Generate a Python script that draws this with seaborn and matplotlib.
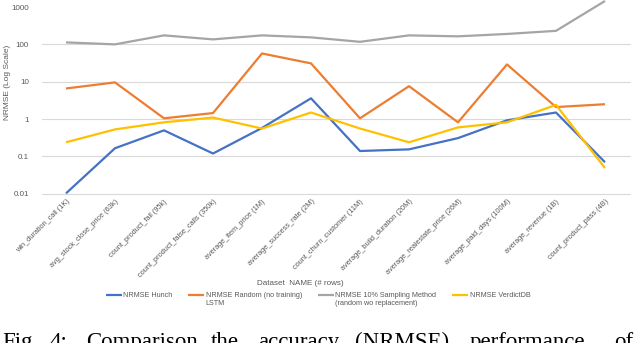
import matplotlib
matplotlib.use("Agg")
import matplotlib.pyplot as plt
import seaborn as sns
import pandas as pd

# ---------------- data ----------------
datasets = [
    "win_duration_call (1K)",
    "avg_stock_close_price (63k)",
    "count_product_fail (95k)",
    "count_product_false_calls (350k)",
    "average_item_price (1M)",
    "average_success_rate (2M)",
    "count_churn_customer (11M)",
    "average_build_duration (20M)",
    "average_realestate_price (26M)",
    "average_paid_days (100M)",
    "average_revenue (1B)",
    "count_product_pass (4B)",
]
hunch = [0.0103, 0.166, 0.50, 0.12, 0.58, 3.6, 0.14, 0.155, 0.31, 0.93, 1.5, 0.07]
random_lstm = [6.6, 9.6, 1.05, 1.45, 57, 31, 1.05, 7.6, 0.82, 29, 2.1, 2.5]
sampling = [113, 100, 174, 136, 174, 154, 117, 174, 164, 190, 230, 1450]
verdictdb = [0.24, 0.53, 0.82, 1.1, 0.56, 1.5, 0.56, 0.24, 0.6, 0.82, 2.4, 0.049]

series_names = [
    "NRMSE Hunch",
    "NRMSE Random (no training)\nLSTM",
    "NRMSE 10% Sampling Method\n(random wo replacement)",
    "NRMSE VerdictDB",
]
colors = ["#4472C4", "#ED7D31", "#A5A5A5", "#FFC000"]
yticks = [0.01, 0.1, 1, 10, 100, 1000]
ytick_labels = ["0.01", "0.1", "1", "10", "100", "1000"]
x_title = "Dataset  NAME (# rows)"
y_title = "NRMSE (Log Scale)"
caption_words = ["Fig.", "4:", "Comparison", "the", "accuracy", "(NRMSE)", "performance", "of"]
caption_x = [2, 50, 86, 211, 258, 355, 470, 614]

rows = []
for name, vals in zip(series_names, [hunch, random_lstm, sampling, verdictdb]):
    for i, v in enumerate(vals):
        rows.append({"pos": i, "dataset": datasets[i], "series": name, "nrmse": v})
df = pd.DataFrame(rows)

# ---------------- style ----------------
sns.set_style("white")
plt.rcParams["font.family"] = ["Liberation Sans", "DejaVu Sans"]
txt_color = "#595959"

W, H = 640, 343
fig = plt.figure(figsize=(W / 100, H / 100), dpi=100)
left, right, top, bottom = 41.5, 629.5, 7, 194
ax = fig.add_axes([left / W, 1 - bottom / H, (right - left) / W, (bottom - top) / H])

sns.lineplot(
    data=df, x="pos", y="nrmse", hue="series", hue_order=series_names,
    palette=colors, linewidth=1.6, sort=False, ax=ax, legend=True,
)
for ln in ax.lines:
    ln.set_clip_on(False)
    ln.set_solid_capstyle("butt")

ax.set_yscale("log")
ax.set_ylim(0.0099, 1000)
ax.set_xlim(-0.5, len(datasets) - 0.5)
ax.set_yticks(yticks)
ax.set_yticklabels(ytick_labels)
ax.minorticks_off()
ax.set_xticks(range(len(datasets)))
ax.set_xticklabels(datasets, rotation=45, ha="right", rotation_mode="anchor",
                   fontsize=5.3, color=txt_color)
ax.tick_params(axis="y", length=0, pad=9, labelsize=5.8, labelcolor=txt_color)
ax.tick_params(axis="x", length=0, pad=3)

ax.yaxis.grid(True, color="#D9D9D9", linewidth=0.8)
ax.xaxis.grid(False)
ax.set_axisbelow(True)
gl = ax.yaxis.get_gridlines()
for g in gl:
    g.set_clip_on(False)
gl[-1].set_visible(False)
for s in ax.spines.values():
    s.set_visible(False)

ax.set_ylabel(y_title, fontsize=6.0, color=txt_color)
ax.yaxis.set_label_coords((11 - left) / (right - left), (bottom - 82) / (bottom - top))
ax.set_xlabel(x_title, fontsize=5.8, color=txt_color)
ax.xaxis.set_label_coords((300 - left) / (right - left), (bottom - 280) / (bottom - top))

# legend: pad single-line labels to two lines so all first lines align
handles, labels = ax.get_legend_handles_labels()
labels = [l if "\n" in l else l + "\n " for l in labels]
fs_leg = 5.2
leg = ax.legend(
    handles, labels,
    loc="upper left", bbox_to_anchor=(106 / W, 1 - 292 / H), bbox_transform=fig.transFigure,
    ncol=4, frameon=False, fontsize=fs_leg, handlelength=2.2, handletextpad=0.2,
    columnspacing=2.2, borderpad=0, borderaxespad=0,
)
for t in leg.get_texts():
    t.set_color(txt_color)
for h in leg.get_lines():
    h.set_linewidth(1.6)
    yd = h.get_ydata()
    h.set_ydata([y + 0.6 * fs_leg for y in yd])

for w, xp in zip(caption_words, caption_x):
    fig.text(xp / W, 1 - 348 / H, w, family="Liberation Serif", fontsize=16.5,
             ha="left", va="baseline", color="black")

fig.savefig("out.png", dpi=100, facecolor="white")
